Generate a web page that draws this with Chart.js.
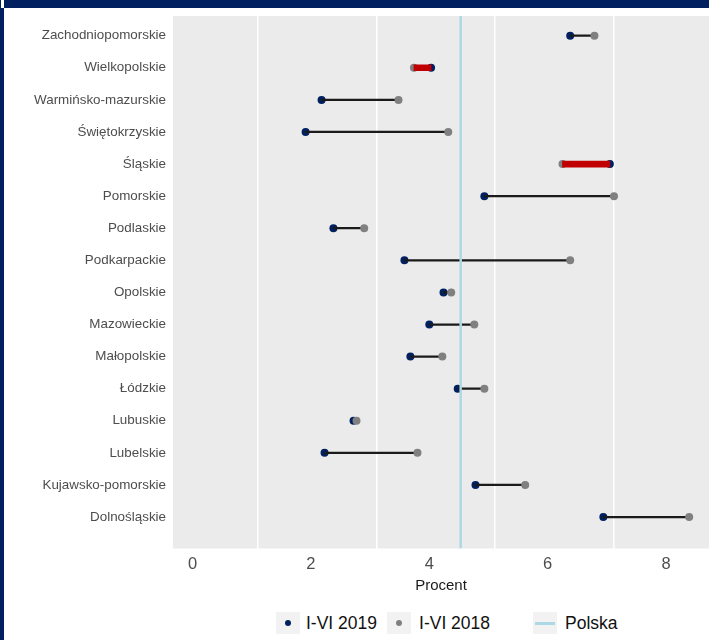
<!DOCTYPE html>
<html>
<head>
<meta charset="utf-8">
<script src="https://cdn.jsdelivr.net/npm/chart.js@4.4.0/dist/chart.umd.min.js"></script>
<style>
  html, body { margin: 0; padding: 0; background: #fff; }
  body { width: 709px; height: 640px; position: relative; overflow: hidden; font-family: "Liberation Sans", Arial, sans-serif; }
  .frame-top { position: absolute; left: 0; top: 0; width: 709px; height: 8px; background: #002060; }
  .frame-left { position: absolute; left: 0; top: 0; width: 4px; height: 640px; background: #002060; }
  .notch { position: absolute; left: 1px; top: 0; width: 3px; height: 8px; background: #fff; }
  #chartBox { position: absolute; left: 0; top: 0; }
  .legend { position: absolute; left: 276px; top: 612px; height: 22px; display: flex; align-items: center; font-size: 17.5px; color: #111; }
  .key { width: 24px; height: 22px; background: #f2f2f2; position: relative; flex: none; }
  .key .dot { position: absolute; left: 12px; top: 11px; width: 6px; height: 6px; margin: -3px 0 0 -3px; border-radius: 50%; }
  .key .line { position: absolute; left: 2px; right: 2px; top: 10px; height: 2.5px; background: #add8e6; }
  .lbl { white-space: nowrap; }
</style>
</head>
<body>
<div id="chartBox"><canvas id="chart" width="709" height="600"></canvas></div>
<div class="frame-top"></div>
<div class="frame-left"></div>
<div class="notch"></div>
<div class="legend">
  <div class="key"><div class="dot" style="background:#002060"></div></div>
  <span class="lbl" style="margin-left:6px">I-VI 2019</span>
  <div class="key" style="margin-left:10px"><div class="dot" style="background:#808080"></div></div>
  <span class="lbl" style="margin-left:8px">I-VI 2018</span>
  <div class="key" style="margin-left:43px"><div class="line"></div></div>
  <span class="lbl" style="margin-left:8px">Polska</span>
</div>
<script>
  const regions = ['Zachodniopomorskie', 'Wielkopolskie', 'Warmińsko-mazurskie', 'Świętokrzyskie', 'Śląskie',
    'Pomorskie', 'Podlaskie', 'Podkarpackie', 'Opolskie', 'Mazowieckie', 'Małopolskie', 'Łódzkie',
    'Lubuskie', 'Lubelskie', 'Kujawsko-pomorskie', 'Dolnośląskie'];
  const rate2019 = [6.38, 4.03, 2.18, 1.91, 7.05, 4.93, 2.38, 3.58, 4.24, 4.00, 3.68, 4.48, 2.72, 2.23, 4.78, 6.94];
  const rate2018 = [6.79, 3.74, 3.48, 4.32, 6.25, 7.12, 2.90, 6.38, 4.37, 4.76, 4.22, 4.93, 2.77, 3.80, 5.62, 8.39];
  const polska = 4.53;
  const xTicks = [0, 2, 4, 6, 8];
  const xGridLines = [1.11, 3.11, 5.11, 7.11];

  const Y_MIN = -0.614, Y_MAX = 15.98;
  const X_MIN = -0.33, X_MAX = 8.725;

  Chart.defaults.font.family = '"Liberation Sans", Arial, sans-serif';

  const rows = regions.map((r, i) => ({ i, a: rate2019[i], b: rate2018[i] }));
  const upSeg = rows.filter(r => r.a > r.b).map(r => ({ x: [r.b, r.a], y: r.i }));
  const downSeg = rows.filter(r => r.a <= r.b).map(r => ({ x: [r.a, r.b], y: r.i }));

  const panelBg = {
    id: 'panelBg',
    beforeDraw(chart) {
      const { ctx, chartArea: a } = chart;
      ctx.save();
      ctx.fillStyle = '#ebebeb';
      ctx.fillRect(a.left, a.top, a.right - a.left, a.bottom - a.top);
      ctx.restore();
    }
  };

  new Chart(document.getElementById('chart'), {
    type: 'scatter',
    data: {
      datasets: [
        {
          type: 'line',
          label: 'Polska',
          data: [{ x: polska, y: Y_MIN }, { x: polska, y: Y_MAX }],
          borderColor: '#add8e6',
          borderWidth: 2.5,
          pointRadius: 0,
        },
        {
          type: 'bar',
          indexAxis: 'y',
          grouped: false,
          data: upSeg,
          backgroundColor: '#c00000',
          barThickness: 6,
        },
        {
          label: 'I-VI 2018',
          data: rate2018.map((v, i) => ({ x: v, y: i })),
          backgroundColor: '#808080',
          pointRadius: 4,
          borderWidth: 0,
        },
        {
          type: 'bar',
          indexAxis: 'y',
          grouped: false,
          data: downSeg,
          backgroundColor: '#1a1a1a',
          barThickness: 1.6,
        },
        {
          label: 'I-VI 2019',
          data: rate2019.map((v, i) => ({ x: v, y: i })),
          backgroundColor: '#002060',
          pointRadius: 4,
          borderWidth: 0,
        },
      ]
    },
    options: {
      responsive: false,
      animation: false,
      devicePixelRatio: 1,
      layout: { autoPadding: false, padding: { top: 16, left: 0, right: 0, bottom: 0 } },
      plugins: { legend: { display: false }, tooltip: { enabled: false } },
      scales: {
        x: {
          type: 'linear',
          position: 'bottom',
          offset: false,
          min: X_MIN,
          max: X_MAX,
          afterBuildTicks: s => { s.ticks = xTicks.map(v => ({ value: v })); },
          afterFit: s => { s.height = 51.5; },
          grid: { display: false, drawTicks: false },
          border: { display: false },
          ticks: { color: '#4d4d4d', font: { size: 16.5 }, padding: 6, callback: v => v },
          title: { display: true, text: 'Procent', color: '#1a1a1a', font: { size: 15 }, padding: { top: 0, bottom: 5 } },
        },
        xg: {
          type: 'linear',
          position: 'bottom',
          offset: false,
          min: X_MIN,
          max: X_MAX,
          afterBuildTicks: s => { s.ticks = xGridLines.map(v => ({ value: v })); },
          afterFit: s => { s.height = 0; },
          grid: { color: '#ffffff', lineWidth: 1.5, drawTicks: false },
          border: { display: false },
          ticks: { display: false },
        },
        y: {
          type: 'linear',
          reverse: true,
          offset: false,
          min: Y_MIN,
          max: Y_MAX,
          afterBuildTicks: s => { s.ticks = regions.map((_, i) => ({ value: i })); },
          afterFit: s => { s.width = 173; },
          grid: { display: false, drawTicks: false },
          border: { display: false },
          ticks: { autoSkip: false, color: '#4d4d4d', font: { size: 13.4 }, padding: 7, callback: v => regions[v] },
        }
      }
    },
    plugins: [panelBg]
  });
</script>
</body>
</html>
